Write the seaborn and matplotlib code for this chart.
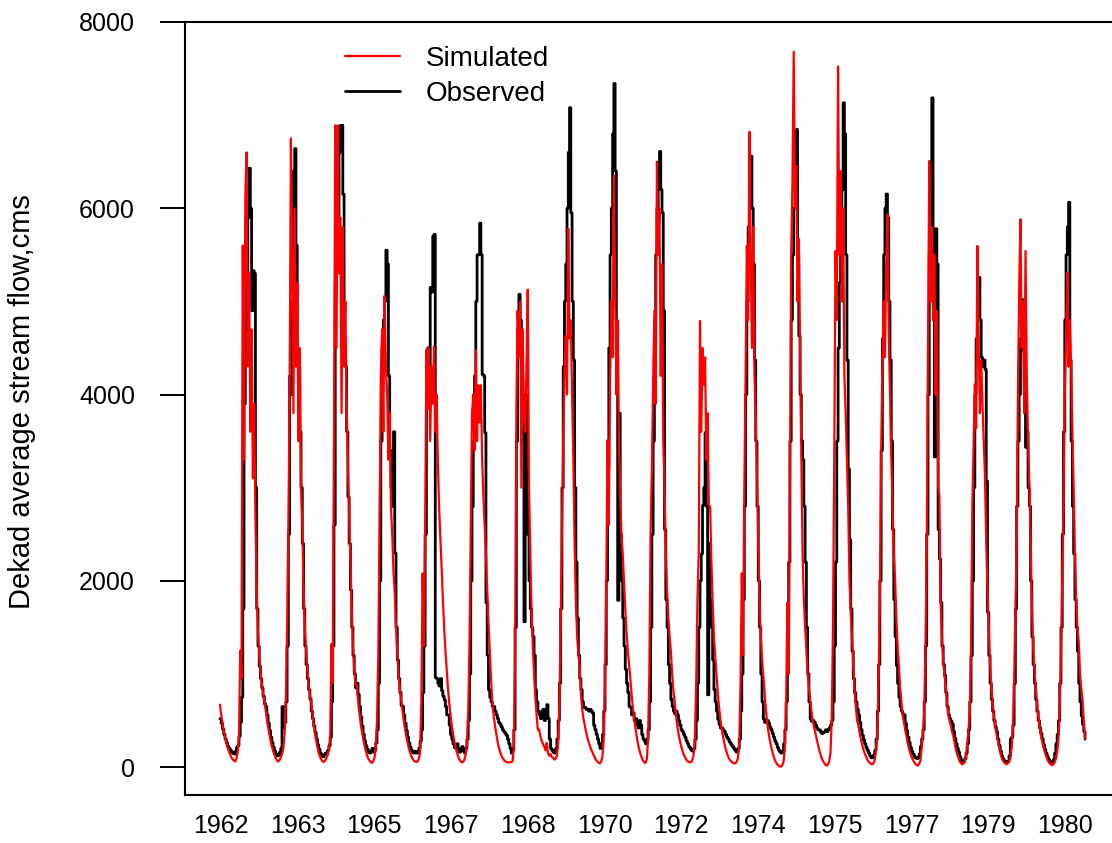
import numpy as np
import pandas as pd
import matplotlib
matplotlib.use("Agg")
import matplotlib.pyplot as plt
import seaborn as sns

# ---------------- data (dekad values, 36 per year) ----------------
tick_labels = ["1962", "1963", "1965", "1967", "1968", "1970",
               "1972", "1974", "1975", "1977", "1979", "1980"]
y_ticks = [0, 2000, 4000, 6000, 8000]
years = list(range(1962, 1981))

sim_1962 = [670, 560, 470, 390, 320, 260, 210, 170, 135, 105, 85, 70, 60, 90, 160, 320, 1250, 950, 5600, 3300, 6100, 6600, 4300, 5300, 3600, 4700, 3100, 3900, 2700, 1900, 1450, 1200, 1030, 900, 800, 700]
obs_1962 = [520, 470, 410, 350, 300, 260, 225, 200, 180, 160, 150, 140, 170, 210, 230, 330, 480, 750, 1700, 3900, 5200, 4700, 5900, 6430, 6000, 4900, 5330, 5300, 3000, 1700, 1300, 1080, 950, 850, 760, 680]
sim_1963 = [620, 520, 430, 350, 280, 220, 170, 130, 95, 70, 60, 75, 100, 140, 200, 350, 700, 1500, 2600, 4000, 6750, 5500, 3800, 6000, 4300, 5200, 3500, 4500, 3000, 2600, 1900, 1500, 1250, 1050, 900, 780]
obs_1963 = [650, 560, 470, 390, 320, 260, 210, 170, 140, 120, 130, 160, 200, 650, 420, 480, 700, 1300, 2500, 4200, 4000, 5000, 6400, 6640, 5600, 4480, 4300, 3600, 3000, 2400, 1700, 1300, 1100, 950, 830, 730]
sim_1964 = [680, 560, 450, 360, 280, 210, 150, 110, 80, 60, 55, 70, 95, 130, 190, 300, 1320, 900, 3500, 6890, 4500, 6890, 5300, 5900, 3800, 5800, 4300, 5000, 3900, 3300, 2700, 2200, 1700, 1300, 1050, 880]
obs_1964 = [600, 520, 440, 370, 300, 240, 190, 150, 120, 110, 130, 150, 140, 180, 230, 320, 700, 1300, 2600, 5200, 6000, 5900, 6600, 6890, 6890, 6150, 4450, 4300, 3600, 2900, 2400, 1900, 1500, 1200, 1000, 850]
sim_1965 = [880, 720, 590, 480, 390, 310, 240, 180, 130, 95, 70, 55, 45, 60, 100, 200, 500, 1200, 2750, 4200, 4700, 3600, 5060, 4300, 4000, 3300, 3800, 2800, 2500, 2100, 1870, 1500, 1200, 1000, 850, 725]
obs_1965 = [900, 780, 650, 540, 440, 350, 280, 230, 190, 160, 150, 170, 200, 160, 180, 260, 400, 900, 2000, 3500, 4500, 4800, 5000, 5550, 5400, 4200, 3400, 3000, 2800, 3600, 2300, 1500, 1150, 950, 800, 660]
sim_1966 = [620, 510, 420, 340, 270, 210, 160, 120, 90, 70, 60, 55, 60, 90, 150, 700, 2080, 1300, 2600, 4480, 3850, 4500, 3500, 4300, 3900, 4520, 3600, 4000, 3300, 2800, 2450, 2150, 1800, 1500, 1250, 1050]
obs_1966 = [650, 560, 470, 390, 320, 260, 210, 180, 160, 150, 170, 150, 160, 200, 280, 400, 800, 1300, 2500, 3900, 4500, 4200, 5150, 5100, 5700, 5720, 960, 950, 900, 870, 950, 820, 760, 720, 650, 560]
sim_1967 = [850, 690, 560, 450, 360, 280, 210, 160, 115, 85, 60, 50, 55, 80, 130, 250, 600, 1300, 2600, 3800, 4000, 3400, 4475, 3500, 4100, 3700, 4100, 3300, 2900, 2600, 2290, 1900, 1550, 1250, 950, 700]
obs_1967 = [560, 450, 350, 300, 250, 210, 200, 250, 180, 160, 200, 220, 170, 150, 200, 300, 500, 1000, 2000, 2800, 3500, 4200, 5000, 5500, 5500, 5840, 5500, 4215, 4200, 3590, 1766, 1200, 830, 750, 700, 650]
sim_1968 = [560, 460, 370, 290, 220, 170, 130, 100, 80, 65, 55, 50, 50, 50, 55, 60, 200, 1200, 3800, 4900, 4400, 5000, 3000, 4700, 3800, 3600, 4300, 5126, 3000, 2300, 1700, 1300, 1000, 750, 550, 400]
obs_1968 = [650, 600, 560, 520, 480, 460, 430, 400, 380, 360, 340, 300, 250, 200, 150, 180, 400, 1500, 3500, 4700, 5075, 4800, 4000, 3500, 1560, 4000, 3200, 2500, 2000, 1700, 1500, 1400, 1200, 830, 700, 600]
sim_1969 = [400, 330, 280, 250, 220, 180, 260, 150, 120, 140, 110, 100, 80, 90, 120, 250, 700, 1500, 2550, 3500, 4200, 4630, 4000, 5780, 4600, 4800, 4000, 3330, 2400, 1766, 1400, 1200, 1090, 800, 620, 520]
obs_1969 = [560, 520, 600, 620, 500, 580, 670, 520, 300, 200, 180, 160, 150, 200, 300, 500, 900, 1700, 3000, 4300, 5000, 5400, 6000, 6600, 7080, 5950, 5000, 4370, 3000, 2200, 1600, 1200, 950, 830, 700, 640]
sim_1970 = [450, 380, 320, 270, 230, 190, 160, 130, 100, 75, 60, 45, 40, 60, 120, 300, 900, 2000, 3510, 2600, 4200, 5000, 4400, 6350, 5200, 4000, 4800, 3500, 2900, 2500, 2290, 2000, 1700, 1450, 1250, 1100]
obs_1970 = [640, 620, 620, 600, 620, 600, 580, 450, 400, 350, 300, 250, 200, 250, 350, 600, 1100, 2000, 3200, 4500, 5500, 6000, 6800, 7340, 6400, 4500, 1790, 3800, 2500, 2000, 1600, 1300, 1050, 900, 800, 650]
sim_1971 = [950, 780, 640, 520, 420, 330, 250, 190, 140, 100, 70, 50, 45, 80, 300, 1000, 2550, 3200, 4137, 4900, 3900, 6500, 5500, 6000, 4200, 5400, 3500, 3016, 2290, 1900, 1600, 1400, 1245, 1000, 820, 700]
obs_1971 = [640, 560, 580, 500, 520, 460, 420, 500, 450, 350, 300, 280, 250, 300, 400, 700, 1500, 2500, 3500, 4800, 5500, 6000, 6400, 6610, 6200, 5950, 4900, 2550, 1800, 1500, 1100, 900, 725, 650, 600, 570]
sim_1972 = [560, 450, 360, 290, 230, 180, 140, 110, 85, 65, 55, 50, 55, 80, 130, 300, 900, 1800, 2290, 4790, 3600, 4500, 4100, 4400, 3300, 3800, 2800, 2800, 2200, 1766, 1400, 1200, 985, 800, 650, 520]
obs_1972 = [600, 560, 500, 450, 400, 380, 350, 320, 280, 250, 220, 200, 180, 170, 200, 300, 500, 900, 1500, 2000, 2290, 2808, 3000, 3590, 2800, 776, 2400, 1800, 1500, 1150, 830, 700, 600, 515, 460, 420]
sim_1973 = [420, 340, 270, 210, 160, 120, 90, 70, 55, 45, 40, 40, 60, 100, 250, 900, 2080, 1200, 3000, 4200, 5600, 4800, 6820, 5500, 4500, 5800, 4200, 3800, 3070, 2400, 1766, 1400, 1150, 985, 800, 620]
obs_1973 = [420, 400, 380, 350, 320, 300, 270, 250, 230, 210, 190, 170, 160, 200, 300, 600, 1000, 1800, 2800, 4000, 5000, 5800, 6200, 6560, 6000, 5400, 4370, 3500, 2800, 2000, 1500, 1000, 700, 515, 480, 490]
sim_1974 = [480, 380, 300, 230, 170, 120, 80, 50, 30, 15, 5, 5, 20, 60, 200, 700, 1766, 1000, 3000, 5500, 6300, 7680, 6000, 6455, 5000, 5670, 4500, 3330, 2290, 1800, 1500, 1245, 1000, 850, 725, 600]
obs_1974 = [500, 470, 430, 400, 360, 320, 280, 250, 210, 180, 160, 150, 170, 250, 400, 700, 1200, 2200, 3500, 4800, 5500, 6000, 6500, 6846, 5500, 4630, 4000, 3500, 3300, 2800, 2200, 1500, 1000, 700, 515, 490]
sim_1975 = [500, 430, 370, 310, 250, 190, 140, 100, 70, 45, 25, 15, 25, 60, 150, 500, 1500, 3330, 5543, 4800, 7523, 5500, 6400, 5000, 6000, 4200, 3800, 3300, 2800, 2000, 1650, 1400, 1100, 830, 650, 500]
obs_1975 = [500, 480, 450, 420, 400, 400, 380, 360, 370, 380, 400, 380, 400, 420, 450, 500, 700, 1300, 2200, 3500, 4500, 5200, 5800, 6200, 7133, 6800, 5500, 4370, 3200, 2440, 1700, 1245, 950, 800, 700, 620]
sim_1976 = [450, 370, 300, 240, 190, 150, 115, 85, 60, 45, 35, 30, 40, 80, 180, 400, 900, 1800, 3330, 4370, 5000, 4400, 5400, 5934, 4700, 4000, 3330, 2800, 2300, 2030, 1600, 1300, 1090, 850, 700, 560]
obs_1976 = [560, 480, 400, 340, 290, 250, 210, 180, 150, 120, 100, 100, 130, 180, 300, 600, 1100, 2000, 3400, 4600, 5500, 6000, 6153, 5900, 5000, 4370, 3500, 2550, 1800, 1400, 1090, 900, 750, 650, 600, 570]
sim_1977 = [480, 400, 330, 260, 200, 150, 110, 80, 55, 35, 22, 15, 30, 70, 200, 350, 600, 1300, 2290, 4500, 6507, 5000, 5800, 4800, 5500, 4000, 4900, 3016, 2912, 1766, 1400, 1150, 980, 880, 700, 560]
obs_1977 = [560, 470, 390, 320, 260, 210, 170, 140, 110, 100, 90, 100, 140, 220, 300, 400, 700, 1300, 2500, 4000, 5500, 6500, 7185, 5400, 3330, 5780, 5400, 2550, 2235, 1766, 1300, 1100, 985, 800, 650, 560]
sim_1978 = [500, 440, 380, 330, 260, 190, 140, 100, 65, 40, 30, 35, 60, 110, 250, 400, 600, 1300, 2800, 3485, 4110, 3640, 5596, 4600, 3800, 4370, 3900, 3500, 3120, 2400, 1900, 1500, 1100, 850, 700, 560]
obs_1978 = [520, 490, 460, 380, 310, 250, 200, 160, 110, 70, 50, 60, 90, 150, 250, 400, 700, 1200, 2000, 3000, 4000, 4600, 5000, 5257, 4800, 4400, 4300, 4371, 4270, 3070, 1660, 1200, 900, 725, 600, 500]
sim_1979 = [440, 360, 290, 220, 160, 110, 75, 50, 38, 30, 40, 60, 100, 200, 400, 900, 1700, 2290, 4000, 5150, 5882, 4500, 5000, 3800, 5543, 4200, 3500, 3070, 2500, 1766, 1300, 1050, 880, 700, 560, 450]
obs_1979 = [430, 380, 300, 230, 170, 120, 85, 65, 55, 50, 60, 120, 300, 320, 450, 900, 1700, 2800, 3500, 4000, 4600, 5020, 4475, 4000, 3433, 3600, 3000, 2800, 2000, 1400, 1100, 900, 725, 600, 500, 420]
sim_1980 = [360, 280, 220, 170, 130, 90, 60, 40, 28, 20, 30, 50, 90, 160, 300, 600, 1200, 2000, 2800, 4000, 4600, 5309, 4300, 4800, 4300, 3590, 3000, 2290, 1800, 1500, 1350, 1000, 850, 725, 500, 307]
obs_1980 = [360, 300, 240, 190, 150, 110, 80, 60, 50, 50, 80, 150, 250, 350, 500, 900, 1500, 2500, 3600, 4800, 5500, 5800, 6064, 4370, 3500, 2800, 2290, 1800, 1500, 1245, 900, 700, 550, 460, 380, 300]

simulated = []
observed = []
for yr in years:
    simulated += globals()[f"sim_{yr}"]
    observed += globals()[f"obs_{yr}"]

df = pd.DataFrame({"t": np.arange(len(simulated)),
                   "Simulated": simulated,
                   "Observed": observed})

# ---------------- plot ----------------
sns.set_theme(style="white")
plt.rcParams["font.family"] = ["Liberation Sans", "DejaVu Sans"]
plt.rcParams["text.color"] = "black"
plt.rcParams["axes.labelcolor"] = "black"
plt.rcParams["xtick.color"] = "black"
plt.rcParams["ytick.color"] = "black"

W, H = 1112, 843
fig = plt.figure(figsize=(W / 100, H / 100), dpi=100)
ax = fig.add_axes([185 / W, 1 - 795 / H, (1120 - 185) / W, (795 - 22) / H])

sns.lineplot(data=df, x="t", y="Observed", ax=ax, color="black", lw=2.0,
             drawstyle="steps-post", estimator=None, label="Observed")
sns.lineplot(data=df, x="t", y="Simulated", ax=ax, color="#ff0000", lw=1.6,
             estimator=None, label="Simulated")

ax.set_xlim(-27.6, 710.6)
ax.set_ylim(-300, 8000)

ax.set_yticks(y_ticks)
ax.set_yticklabels([str(v) for v in y_ticks])
ax.set_xticks(0.6 + 60.6 * np.arange(len(tick_labels)))
ax.set_xticklabels(tick_labels)

ax.tick_params(axis="y", direction="out", length=18, width=1.4, pad=18,
               labelsize=18, left=True, colors="black")
ax.tick_params(axis="x", length=0, pad=14, labelsize=18, colors="black")

for s in ax.spines.values():
    s.set_visible(True)
    s.set_color("black")
    s.set_linewidth(1.5)

ax.set_xlabel("")
ax.set_ylabel("")
fig.text(22 / W, 1 - 402 / H, "Dekad average stream flow,cms", rotation=90,
         ha="center", va="center", fontsize=21, color="black")

handles, labels = ax.get_legend_handles_labels()
order = [labels.index("Simulated"), labels.index("Observed")]
ax.legend([handles[i] for i in order], [labels[i] for i in order],
          loc="upper left", bbox_to_anchor=(345 / W, 1 - 46 / H),
          bbox_transform=fig.transFigure, frameon=False, fontsize=20,
          handlelength=1.98, handletextpad=0.93, labelspacing=0.33,
          borderpad=0, borderaxespad=0, labelcolor="black")

fig.savefig("out.png", dpi=100)
